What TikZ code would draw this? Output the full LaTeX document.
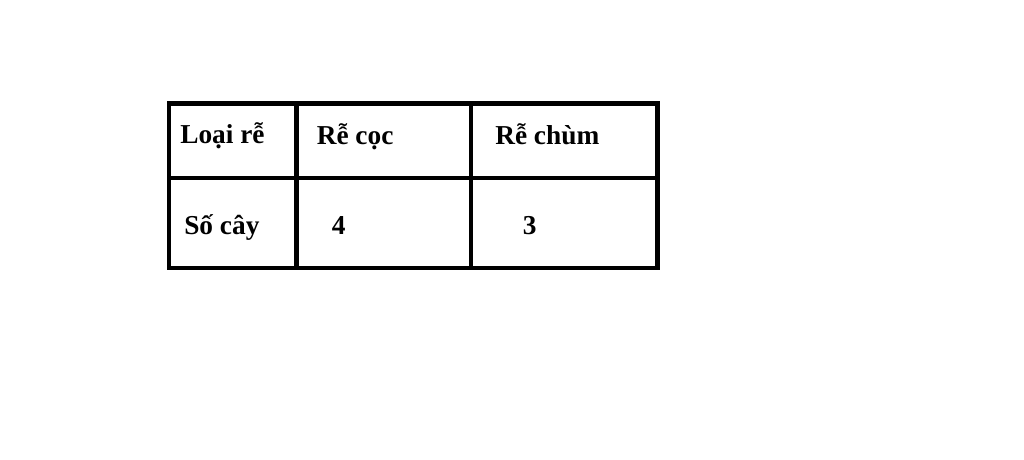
\documentclass[tikz,border=0pt]{standalone}
\usepackage{fontspec}
\setmainfont{Liberation Serif}
\usetikzlibrary{positioning}

\tikzset{
  cell/.style={anchor=base west, inner sep=0pt, font=\fontsize{20.5pt}{24pt}\selectfont\bfseries},
  rule/.style={line width=3.2pt, line cap=rect}
}

\begin{document}
\begin{tikzpicture}[x=0.75pt,y=-0.75pt]
        \useasboundingbox (0,0) rectangle (1024,460);
        
        % table frame
        \draw[rule] (169,103.5) rectangle (657.5,268);
        \draw[rule] (296.5,103.5) -- (296.5,268);
        \draw[rule] (471,103.5) -- (471,268);
        \draw[rule] (169,178) -- (657.5,178);
        
        \node[cell] (loai) at (180,143) {Loại rễ};
        \node[cell] (coc) at (316.5,144) {Rễ cọc};
        \node[cell] (chum) at (495,144) {Rễ chùm};
        \node[cell] (socay) at (184,234) {Số cây};
        \node[cell] (bon) at (331.5,234) {4};
        \node[cell] (ba) at (522.5,234) {3};
    \end{tikzpicture}
\end{document}
